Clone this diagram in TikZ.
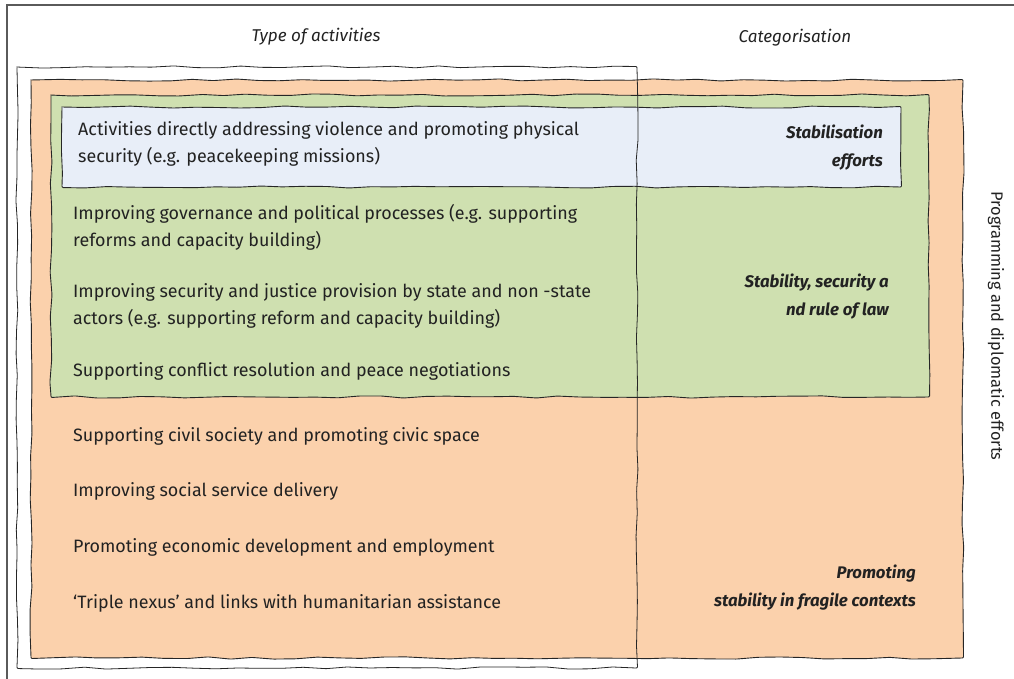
\documentclass[tikz,border=0pt]{standalone}
\usepackage{fontspec}
\setmainfont{Fira Sans}
\usetikzlibrary{decorations.pathmorphing}
\definecolor{orangefill}{RGB}{251,209,172}
\definecolor{greenfill}{RGB}{207,224,176}
\definecolor{bluefill}{RGB}{232,238,248}
\definecolor{txt}{RGB}{34,34,34}
\definecolor{framegray}{RGB}{90,90,90}
\begin{document}
\begin{tikzpicture}[x=1pt,y=-1pt,
  sketch/.style={draw=black!85, line width=0.9pt, decorate,
    decoration={random steps, segment length=22pt, amplitude=1.1pt}, rounded corners=1pt},
  body/.style={anchor=west, text=txt, font=\fontsize{17.9}{27}\selectfont, align=left, inner sep=0pt},
  cat/.style={anchor=east, text=txt, font=\fontsize{16.8}{28}\selectfont\bfseries\itshape, align=right, inner sep=0pt},
  head/.style={text=txt, font=\fontsize{17.1}{18}\selectfont\itshape, inner sep=0pt}]
\pgfmathsetseed{7}
\useasboundingbox (0,0) rectangle (1014,679);
% outer frame
\draw[framegray, line width=1.3pt] (7,679) -- (7,5) -- (1014,5);
% headings
\node[head] (h1) at (316,37) {Type of activities};
\node[head] (h2) at (795,38) {Categorisation};
\node[text=txt, font=\fontsize{16.4}{18}\selectfont, rotate=-90, inner sep=0pt] (side) at (996,326) {Programming and diplomatic efforts};
% white box fill
\fill[white] (17,67) rectangle (637,668);
% orange
\path[sketch, fill=orangefill] (31,80) rectangle (963,658);
% green
\path[sketch, fill=greenfill] (51,95) rectangle (929,397);
% blue
\path[sketch, fill=bluefill] (62,107) rectangle (901,187);
% white box border
\path[sketch, line width=0.8pt] (17,67) rectangle (637,668);
% texts
\node[body] (t1) at (78,144) {Activities directly addressing violence and promoting physical\\security (e.g. peacekeeping missions)};
\node[cat] (c1) at (883,148) {Stabilisation\\efforts};
\node[body] (t2) at (73,227) {Improving governance and political processes (e.g. supporting\\reforms and capacity building)};
\node[body] (t3) at (73,306) {Improving security and justice provision by state and non -state\\actors (e.g. supporting reform and capacity building)};
\node[body] (t4) at (73,371) {Supporting conflict resolution and peace negotiations};
\node[cat] (c2) at (889,297) {Stability, security a\\nd rule of law};
\node[body] (t5) at (73,436) {Supporting civil society and promoting civic space};
\node[body] (t6) at (73,491) {Improving social service delivery};
\node[body] (t7) at (73,547) {Promoting economic development and employment};
\node[body] (t8) at (73,603) {‘Triple nexus’ and links with humanitarian assistance};
\node[cat] (c3) at (916,588) {Promoting\\stability in fragile contexts};
\end{tikzpicture}
\end{document}
